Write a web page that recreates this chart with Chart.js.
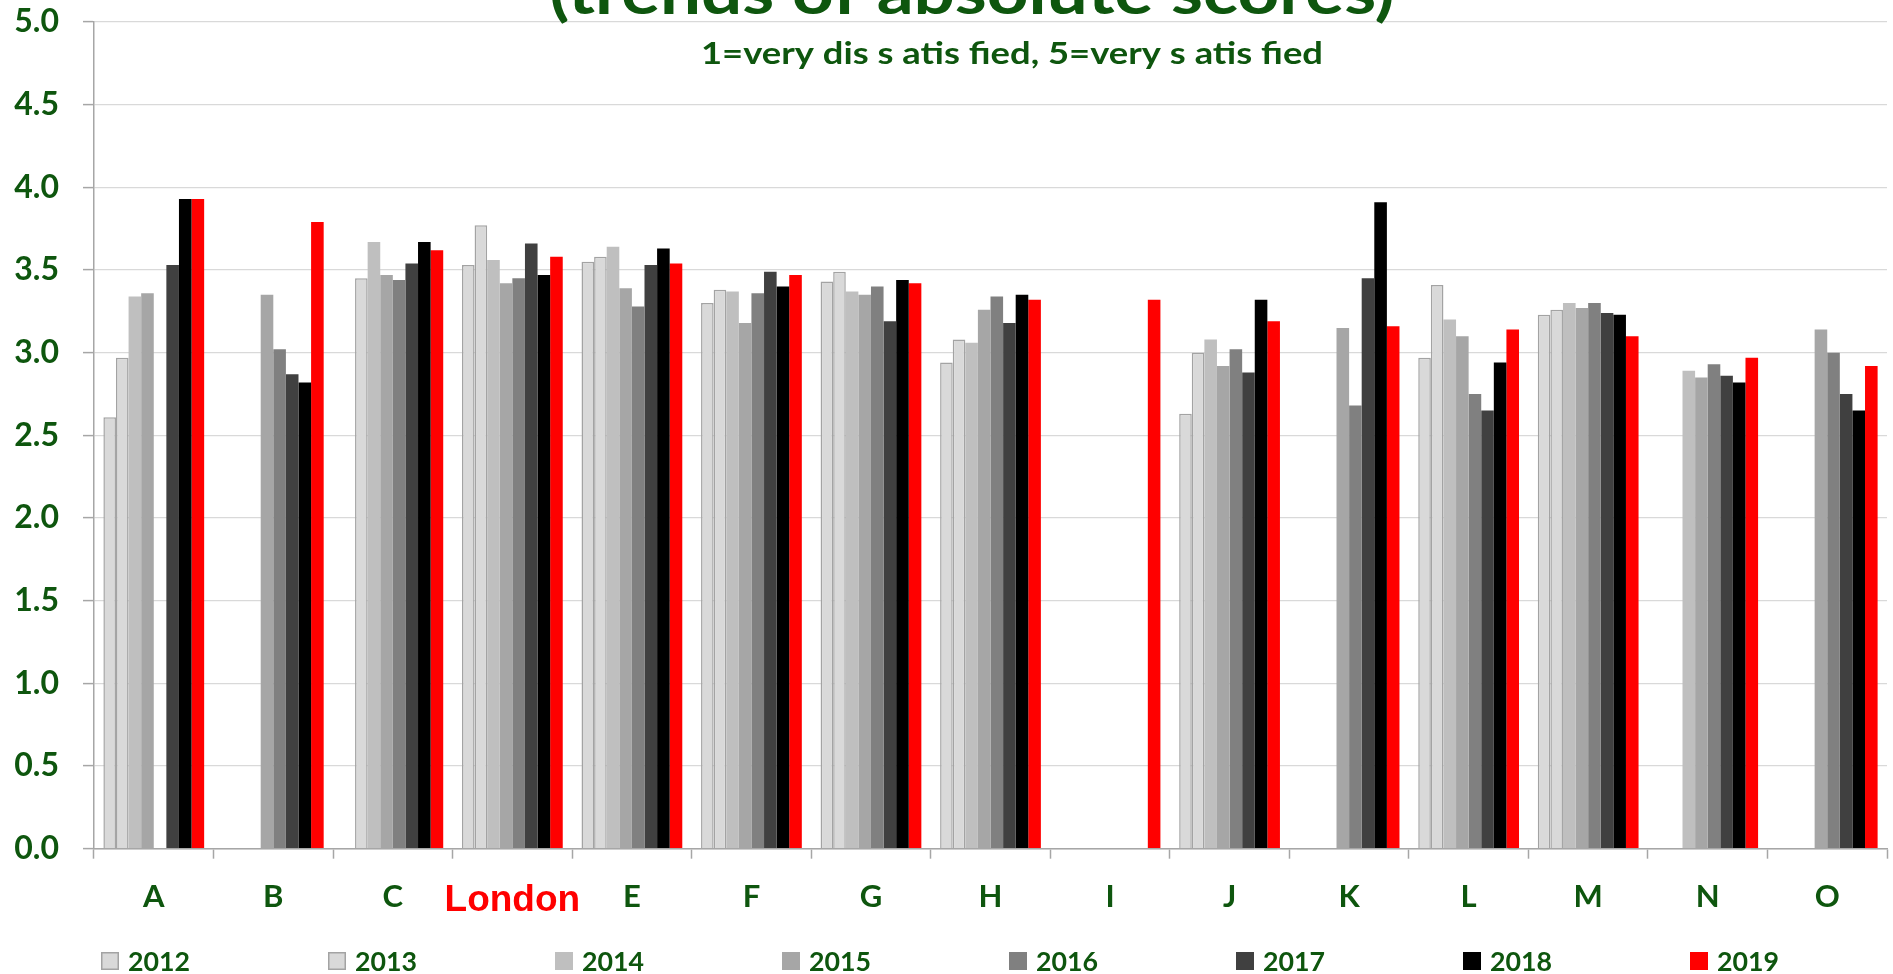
<!DOCTYPE html>
<html>
<head>
<meta charset="utf-8">
<script src="https://cdn.jsdelivr.net/npm/chart.js@4.4.1/dist/chart.umd.min.js"></script>
<style>
  html, body { margin: 0; padding: 0; background: #fff; }
  #wrap { width: 1893px; height: 974px; }
</style>
</head>
<body>
<div id="wrap"><canvas id="scoreChart"></canvas></div>
<script>
// data
const categories = ['A', 'B', 'C', 'London', 'E', 'F', 'G', 'H', 'I', 'J', 'K', 'L', 'M', 'N', 'O'];
const years = ['2012', '2013', '2014', '2015', '2016', '2017', '2018', '2019'];
const yTicks = [0, 0.5, 1, 1.5, 2, 2.5, 3, 3.5, 4, 4.5, 5];

const s2012 = [2.61, null, null, 3.53, 3.55, 3.30, 3.43, 2.94, null, 2.63, null, 2.97, 3.23, null, null];
const s2013 = [2.97, null, 3.45, 3.77, 3.58, 3.38, 3.49, 3.08, null, 3.00, null, 3.41, 3.26, null, null];
const s2014 = [3.34, null, 3.67, 3.56, 3.64, 3.37, 3.37, 3.06, null, 3.08, null, 3.20, 3.30, 2.89, null];
const s2015 = [3.36, 3.35, 3.47, 3.42, 3.39, 3.18, 3.35, 3.26, null, 2.92, 3.15, 3.10, 3.27, 2.85, 3.14];
const s2016 = [null, 3.02, 3.44, 3.45, 3.28, 3.36, 3.40, 3.34, null, 3.02, 2.68, 2.75, 3.30, 2.93, 3.00];
const s2017 = [3.53, 2.87, 3.54, 3.66, 3.53, 3.49, 3.19, 3.18, null, 2.88, 3.45, 2.65, 3.24, 2.86, 2.75];
const s2018 = [3.93, 2.82, 3.67, 3.47, 3.63, 3.40, 3.44, 3.35, null, 3.32, 3.91, 2.94, 3.23, 2.82, 2.65];
const s2019 = [3.93, 3.79, 3.62, 3.58, 3.54, 3.47, 3.42, 3.32, 3.32, 3.19, 3.16, 3.14, 3.10, 2.97, 2.92];

const seriesValues = [s2012, s2013, s2014, s2015, s2016, s2017, s2018, s2019];
const barColors = ['#d9d9d9', '#d9d9d9', '#bfbfbf', '#a6a6a6', '#808080', '#404040', '#000000', '#ff0000'];

const titleText = '(trends of absolute scores)';
const subTitleText = '1=very dis s atis fied, 5=very s atis fied';

const green = '#0e560e';
const font = 'Lato, "DejaVu Sans", sans-serif';

const datasets = years.map((y, i) => ({
	label: y,
	data: seriesValues[i],
	backgroundColor: barColors[i],
	borderColor: i < 2 ? '#a3a3a3' : barColors[i],
	borderWidth: i < 2 ? 1.5 : 0,
	categoryPercentage: 0.843,
	barPercentage: 1.0,
}));

// draw text narrower than the font, the original looks like Calibri
function narrowText(c, txt, x, y, targetW) {
	const w = c.measureText(txt).width;
	const k = targetW / w;
	c.save();
	c.translate(x, y);
	c.scale(k, 1);
	c.fillText(txt, 0, 0);
	c.restore();
}

// title lines (top one is cut by the edge of the picture) and the legend row
const textPlugin = {
	id: 'texts',
	afterDraw(chart) {
		const c = chart.ctx;
		c.save();
		c.fillStyle = green;
		c.textAlign = 'center';
		c.textBaseline = 'alphabetic';

		c.font = `bold 62px ${font}`;
		narrowText(c, titleText, 972, 14, 845);

		c.font = `bold 30px ${font}`;
		narrowText(c, subTitleText, 1012, 64, 622);

		// legend
		c.textAlign = 'left';
		c.font = `bold 27px ${font}`;
		chart.data.datasets.forEach((ds, i) => {
			const x0 = 101 + i * 227;
			const y0 = 952;
			c.fillStyle = ds.backgroundColor;
			c.fillRect(x0, y0, 18, 18);
			if (ds.borderWidth) {
				c.strokeStyle = ds.borderColor;
				c.lineWidth = 1.5;
				c.strokeRect(x0 + 0.75, y0 + 0.75, 16.5, 16.5);
			}
			c.fillStyle = green;
			narrowText(c, ds.label, x0 + 27, 971, 62);
		});
		c.restore();
	}
};

const ctx = document.getElementById('scoreChart').getContext('2d');
const scoreChart = new Chart(ctx, {
	type: 'bar',
	data: { labels: categories, datasets: datasets },
	plugins: [textPlugin],
	options: {
		responsive: true,
		maintainAspectRatio: false,
		animation: false,
		layout: { padding: { left: 0, right: 6, top: 22, bottom: 40 } },
		plugins: {
			legend: { display: false },
			title: { display: false },
			tooltip: { enabled: false },
		},
		scales: {
			x: {
				grid: {
					offset: true,
					drawOnChartArea: false,
					tickLength: 10,
					tickColor: '#a6a6a6',
					tickWidth: 1.5,
				},
				border: { color: '#a6a6a6', width: 1.5 },
				ticks: {
					padding: 20,
					autoSkip: false,
					maxRotation: 0,
					color: (c) => categories[c.index] === 'London' ? '#ff0000' : green,
					font: (c) => categories[c.index] === 'London'
						? { family: '"Liberation Sans", Arial, sans-serif', size: 37, weight: 'bold' }
						: { family: font, size: 31, weight: 'bold' },
				},
				afterFit(scale) { scale.height = 974 - 848.7 - 40; },
			},
			y: {
				min: 0,
				max: 5,
				afterBuildTicks(scale) { scale.ticks = yTicks.map(v => ({ value: v })); },
				grid: {
					color: '#d9d9d9',
					lineWidth: 1.2,
					tickLength: 11,
					tickColor: '#a6a6a6',
					tickWidth: 1.5,
				},
				border: { color: '#a6a6a6', width: 1.5 },
				ticks: {
					padding: 24,
					color: green,
					font: { family: font, size: 32, weight: 'bold' },
					callback: (v) => v.toFixed(1),
				},
				afterFit(scale) {
					scale.width = 94;
					scale.paddingTop = 16;
					scale.paddingBottom = 16;
				},
			},
		},
	},
});
</script>
</body>
</html>
